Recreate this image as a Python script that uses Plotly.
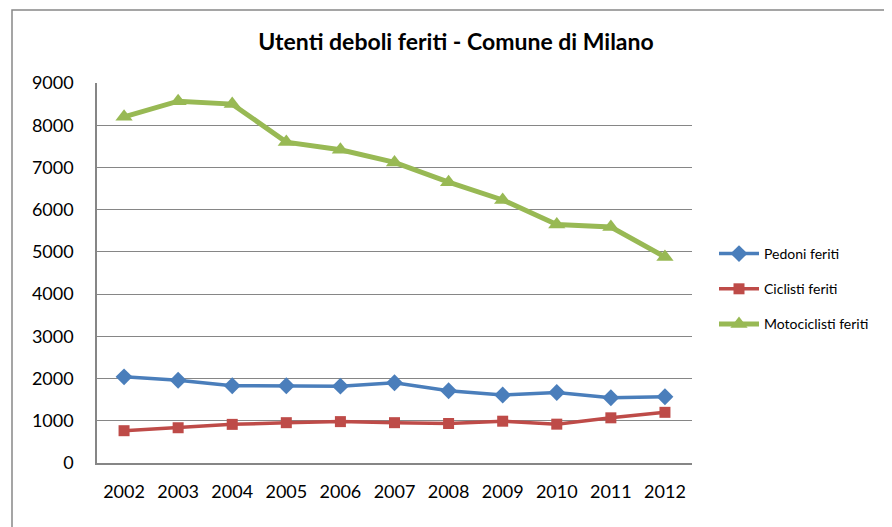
import plotly.graph_objects as go

years = ["2002", "2003", "2004", "2005", "2006", "2007", "2008", "2009", "2010", "2011", "2012"]
pedoni = [2040, 1960, 1830, 1830, 1820, 1900, 1710, 1610, 1670, 1545, 1570]
ciclisti = [765, 835, 915, 955, 980, 955, 935, 990, 920, 1070, 1200]
motociclisti = [8200, 8570, 8500, 7600, 7420, 7120, 6650, 6230, 5650, 5590, 4880]
y_ticks = [0, 1000, 2000, 3000, 4000, 5000, 6000, 7000, 8000, 9000]

FONT = "Lato"
OFF = 8  # page body margin offset

fig = go.Figure()
fig.add_trace(go.Scatter(x=years, y=pedoni, name="Pedoni feriti", mode="lines+markers",
                         legendgroup="a",
                         line=dict(color="#4A7EBB", width=3.5),
                         marker=dict(symbol="diamond", size=13, color="#4A7EBB")))
fig.add_trace(go.Scatter(x=years, y=ciclisti, name="Ciclisti feriti", mode="lines+markers",
                         legendgroup="b",
                         line=dict(color="#BE4B48", width=3.5),
                         marker=dict(symbol="square", size=11, color="#BE4B48")))
fig.add_trace(go.Scatter(x=years, y=motociclisti, name="Motociclisti feriti", mode="lines+markers",
                         legendgroup="c",
                         line=dict(color="#98B954", width=5),
                         marker=dict(symbol="triangle-up", size=15, color="#98B954")))

W, H = 892 - OFF, 527 - OFF
L, R, T, B = 97 - OFF, 692 - OFF, 83 - OFF, 463 - OFF
pw, ph = R - L, B - T

def px(x):
    return (x - OFF - L) / pw

def py(y):
    return (B - (y - OFF)) / ph

fig.update_layout(
    width=W, height=H,
    margin=dict(l=L, r=W - R, t=T, b=H - B, pad=0),
    paper_bgcolor="white", plot_bgcolor="white",
    font=dict(family=FONT, color="#000000"),
    title=dict(text="<b>Utenti deboli feriti - Comune di Milano</b>",
               x=(456 - OFF) / W, xanchor="center", y=1 - (42 - OFF) / H, yanchor="middle",
               font=dict(size=23, family=FONT, color="#000000")),
    showlegend=True,
    legend=dict(x=px(714), y=py(238), xanchor="left", yanchor="top",
                font=dict(size=14, family=FONT), tracegroupgap=14,
                bgcolor="rgba(0,0,0,0)", itemwidth=40),
    xaxis=dict(type="category", showgrid=False, showline=True, linecolor="#868686",
               linewidth=2, ticks="outside", ticklen=11, tickcolor="rgba(0,0,0,0)",
               tickfont=dict(size=18, family=FONT),
               range=[-0.5, 10.5], fixedrange=True),
    yaxis=dict(range=[0, 9000], tickvals=y_ticks, showgrid=True, gridcolor="#868686",
               gridwidth=1, zeroline=False, showline=True, linecolor="#868686",
               linewidth=1.5, ticks="outside", ticklen=18, tickcolor="rgba(0,0,0,0)",
               tickfont=dict(size=18, family=FONT),
               fixedrange=True),
    shapes=[dict(type="rect", xref="paper", yref="paper",
                 x0=px(12), x1=px(905), y0=py(540), y1=py(10),
                 line=dict(color="#888888", width=1.5), fillcolor="rgba(0,0,0,0)",
                 layer="below")],
)

fig.write_html("out.html")
